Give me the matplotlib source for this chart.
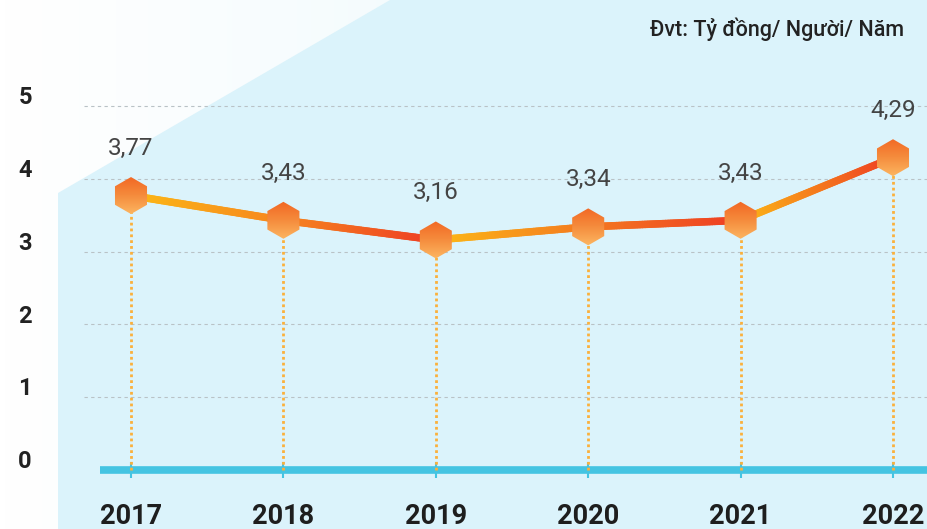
import numpy as np
import matplotlib
matplotlib.use('Agg')
import matplotlib.pyplot as plt
import matplotlib.transforms as mtransforms
from matplotlib.collections import LineCollection
from matplotlib.colors import LinearSegmentedColormap
from matplotlib.patches import Polygon, PathPatch
from matplotlib.path import Path

years = ['2017', '2018', '2019', '2020', '2021', '2022']
values = [3.77, 3.43, 3.16, 3.34, 3.43, 4.29]
value_labels = ['3,77', '3,43', '3,16', '3,34', '3,43', '4,29']
yticks = [0, 1, 2, 3, 4, 5]
unit_text = 'Đvt: Tỷ đồng/ Người/ Năm'

# gradient colours of each line segment (start, end)
seg_colors = [('#fcb916', '#f6861f'), ('#f6861f', '#ee3d23'),
              ('#fcb916', '#f47a20'), ('#f47a20', '#ee3d23'),
              ('#fcb916', '#ee3d23')]

plt.rcParams['font.family'] = ['Roboto', 'DejaVu Sans']

W, H = 928, 529
fig = plt.figure(figsize=(W / 100, H / 100), dpi=100)
ax = fig.add_axes([0, 0, 1, 1])
# pixel mapping: x index 0 -> 131px, step 152.4px; y 0 -> 470px, 72.8px per unit
xs_px, x0_px, y_px, y0_px = 152.4, 131, 72.8, 470
xlim = (-x0_px / xs_px, (W - x0_px) / xs_px)
ylim = ((y0_px - H) / y_px, y0_px / y_px)
ax.set_xlim(*xlim)
ax.set_ylim(*ylim)
ax.axis('off')

# background: soft white gradient + light blue panel with diagonal edge
grad = np.linspace(0, 1, 200)[None, :] * np.ones((50, 1))
bg_cmap = LinearSegmentedColormap.from_list('bg', ['#ffffff', '#e6f7fc'])
ax.imshow(grad, extent=(*xlim, *ylim), cmap=bg_cmap, aspect='auto', zorder=0)
panel = Polygon([(58 / W, 0), (58 / W, 1 - 193 / H), (390 / W, 1), (1, 1), (1, 0)],
                closed=True, transform=ax.transAxes, facecolor='#dbf3fb',
                edgecolor='none', zorder=0.5)
ax.add_patch(panel)

x = np.arange(len(years))

# grid lines
ax.hlines(yticks[1:], (84 - x0_px) / xs_px, xlim[1], colors='#b9c2c6',
          linestyles=(0, (3, 3)), linewidth=0.8, zorder=1)

# baseline
ax.plot([(100 - x0_px) / xs_px, xlim[1]], [0, 0], color='#44c4e2', lw=5.5,
        solid_capstyle='butt', zorder=2)
ax.vlines(x, -0.11, 0.11, colors='#44c4e2', lw=1.5, zorder=2)

# dotted drop lines
ax.vlines(x, 0, values, colors='#fbb03b', linestyles=(0, (1, 1.1)), lw=2.0, zorder=2.5)

# gradient line
for i in range(len(x) - 1):
    t = np.linspace(0, 1, 60)
    px = x[i] + (x[i + 1] - x[i]) * t
    py = values[i] + (values[i + 1] - values[i]) * t
    pts = np.column_stack([px, py]).reshape(-1, 1, 2)
    segs = np.concatenate([pts[:-1], pts[1:]], axis=1)
    cmap = LinearSegmentedColormap.from_list('s%d' % i, list(seg_colors[i]))
    lc = LineCollection(segs, colors=cmap(t[:-1]), linewidths=5.4,
                        capstyle='round', zorder=3)
    ax.add_collection(lc)

# hexagon markers with vertical gradient
r = 18.5
ang = np.deg2rad(90 + 60 * np.arange(7))
hex_path = Path(np.column_stack([np.cos(ang), np.sin(ang)]), closed=True)
mk_cmap = LinearSegmentedColormap.from_list('mk', ['#fdb964', '#f58c3d', '#f26522'])
mk_grad = np.linspace(0, 1, 64)[:, None] * np.ones((1, 4))
for xi, v in zip(x, values):
    tr = mtransforms.Affine2D().scale(r) + mtransforms.ScaledTranslation(xi, v, ax.transData)
    patch = PathPatch(hex_path, transform=tr, facecolor='none', edgecolor='none', zorder=4)
    ax.add_patch(patch)
    dx, dy = (r + 2) / xs_px, (r + 2) / y_px
    im = ax.imshow(mk_grad, extent=(xi - dx, xi + dx, v - dy, v + dy), origin='lower',
                   cmap=mk_cmap, aspect='auto', zorder=4, interpolation='bilinear')
    im.set_clip_path(patch)

ax.set_xlim(*xlim)
ax.set_ylim(*ylim)

# value labels
for xi, v, lab in zip(x, values, value_labels):
    ax.annotate(lab, (xi, v), xytext=(0, 34), textcoords='offset points',
                ha='center', va='center', fontsize=17.5, color='#444444', zorder=5)

# y tick labels
for t in yticks:
    ax.annotate(str(t), ((25 - x0_px) / xs_px, t), xytext=(0, 6), textcoords='offset points',
                ha='center', va='center', fontsize=17, fontweight='bold', color='#222222')

# year labels
for xi, yr in zip(x, years):
    ax.text(xi, (y0_px - 517) / y_px, yr, ha='center', va='center', fontsize=19.5,
            fontweight='bold', color='#1e1e1e')

fig.text(904 / W, 1 - 29 / H, unit_text, ha='right', va='center', fontsize=15.5,
         fontweight='medium', color='#222222')

fig.savefig('out.png', dpi=100)
